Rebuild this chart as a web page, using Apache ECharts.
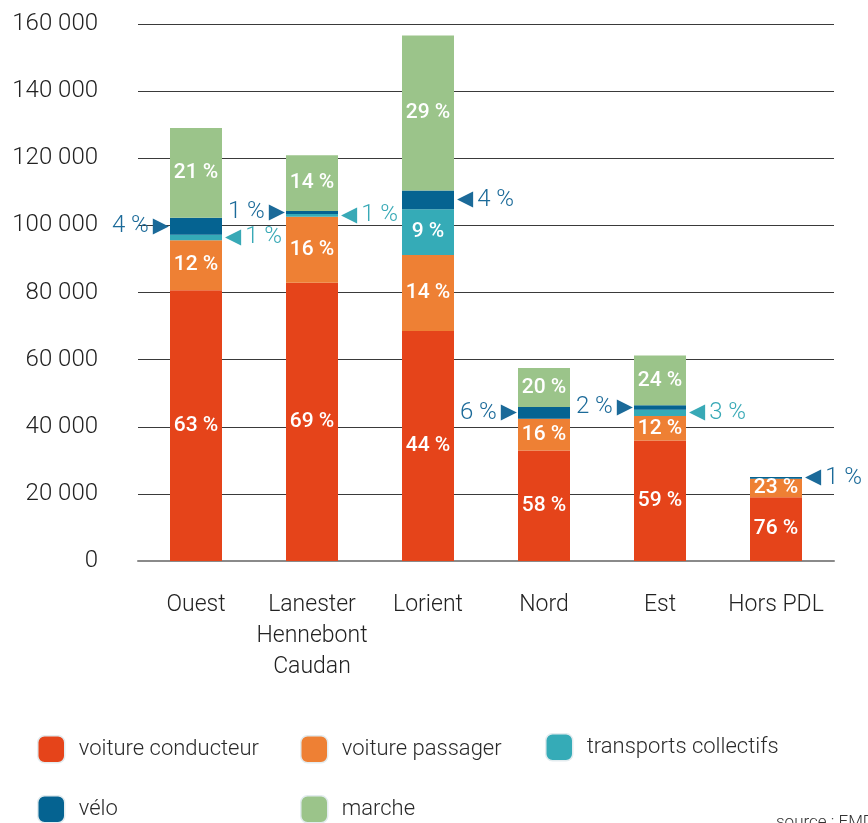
<!DOCTYPE html>
<html>
<head>
<meta charset="utf-8">
<script src="https://cdn.jsdelivr.net/npm/echarts@6/dist/echarts.min.js"></script>
<style>
  html, body { margin: 0; padding: 0; background: #fff; }
  #main { width: 868px; height: 823px; }
</style>
</head>
<body>
<div id="main"></div>
<script>
// données : déplacements par secteur et par mode
var categories = ['Ouest', 'Lanester\nHennebont\nCaudan', 'Lorient', 'Nord', 'Est', 'Hors PDL'];
var yTicks = [0, 20000, 40000, 60000, 80000, 100000, 120000, 140000, 160000];

var voitureConducteur = [80700, 82900, 68500, 32900, 35900, 19000];
var voiturePassager = [14900, 19700, 22700, 9500, 7300, 5500];
var transportsCollectifs = [1600, 800, 13600, 0, 1900, 0];
var velo = [5100, 900, 5600, 3500, 1300, 500];
var marche = [26700, 16600, 46200, 11600, 14800, 0];

// parts modales affichées (%)
var pctConducteur = [63, 69, 44, 58, 59, 76];
var pctPassager = [12, 16, 14, 16, 12, 23];
var pctTransports = [1, 1, 9, null, 3, null];
var pctVelo = [4, 1, 4, 6, 2, 1];
var pctMarche = [21, 14, 29, 20, 24, null];

// où poser les étiquettes des petits segments
var transportsSide = ['right', 'right', 'inside', null, 'right', null];
var veloSide = ['left', 'left', 'right', 'left', 'left', 'right'];

var colors = {
    conducteur: '#e5441a',
    passager: '#ee8034',
    transports: '#35abb7',
    velo: '#056391',
    marche: '#9bc48a'
};

function formatThousands(v) {
    return String(v).replace(/\B(?=(\d{3})+(?!\d))/g, ' ');
}

function innerLabel(p) {
    return {
        show: true,
        position: 'inside',
        formatter: p + ' %',
        color: '#fff',
        fontFamily: 'Roboto',
        fontWeight: 500,
        fontSize: 21
    };
}

function outerLabel(p, side, color) {
    var rich = {
        p: { fontFamily: 'Roboto', fontSize: 24, fontWeight: 300, color: color },
        t: { fontFamily: 'DejaVu Sans', fontSize: 21, color: color,
             padding: side === 'left' ? [0, 0, 0, 4] : [0, 4, 0, 0] }
    };
    return {
        show: true,
        position: side,
        distance: side === 'left' ? 1 : 3,
        formatter: side === 'left' ? '{p|' + p + ' %}{t|▶}' : '{t|◀}{p|' + p + ' %}',
        rich: rich
    };
}

function buildData(values, pcts, sides, outColor) {
    return values.map(function (v, i) {
        var item = { value: v };
        var p = pcts[i];
        if (p === null || p === undefined) {
            item.label = { show: false };
        } else {
            var side = sides ? sides[i] : 'inside';
            item.label = side === 'inside' ? innerLabel(p) : outerLabel(p, side, outColor);
        }
        return item;
    });
}

function makeLegend(name, left, top) {
    return {
        data: [name],
        left: left,
        top: top,
        padding: 0,
        icon: 'roundRect',
        itemWidth: 27,
        itemHeight: 27,
        selectedMode: false,
        itemStyle: {
            borderColor: '#e3ecef',
            borderWidth: 1.5
        },
        textStyle: {
            fontFamily: 'Roboto',
            fontWeight: 300,
            fontSize: 22,
            color: '#2a2a2a',
            padding: [0, 0, 0, 9]
        }
    };
}

var myChart = echarts.init(document.getElementById('main'));

var option = {
    animation: false,
    color: [colors.conducteur, colors.passager, colors.transports, colors.velo, colors.marche],
    grid: {
        left: 138,
        right: 34,
        top: 24,
        bottom: 262,
        containLabel: false
    },
    legend: [
        makeLegend('voiture conducteur', 37, 735),
        makeLegend('voiture passager', 300, 735),
        makeLegend('transports collectifs', 545, 733),
        makeLegend('vélo', 37, 795),
        makeLegend('marche', 300, 795)
    ],
    xAxis: {
        type: 'category',
        data: categories,
        axisTick: { show: false },
        axisLine: { lineStyle: { color: '#8a8a8a', width: 2 } },
        axisLabel: {
            margin: 29,
            fontFamily: 'Roboto',
            fontWeight: 300,
            fontSize: 23,
            lineHeight: 31,
            color: '#222',
            interval: 0
        }
    },
    yAxis: {
        type: 'value',
        min: yTicks[0],
        max: yTicks[yTicks.length - 1],
        interval: yTicks[1] - yTicks[0],
        axisLine: { show: false },
        axisTick: { show: false },
        splitLine: { lineStyle: { color: '#3a3a3a', width: 1 } },
        axisLabel: {
            margin: 40,
            fontFamily: 'Roboto',
            fontWeight: 300,
            fontSize: 24,
            color: '#222',
            formatter: formatThousands
        }
    },
    graphic: [{
        type: 'text',
        left: 776,
        top: 814,
        style: {
            text: 'source : EMD',
            fontFamily: 'Roboto',
            fontWeight: 300,
            fontSize: 17,
            fill: '#333'
        }
    }],
    series: [
        {
            name: 'voiture conducteur',
            type: 'bar',
            stack: 'total',
            barWidth: 52,
            data: buildData(voitureConducteur, pctConducteur, null, null)
        },
        {
            name: 'voiture passager',
            type: 'bar',
            stack: 'total',
            barWidth: 52,
            data: buildData(voiturePassager, pctPassager, null, null)
        },
        {
            name: 'transports collectifs',
            type: 'bar',
            stack: 'total',
            barWidth: 52,
            data: buildData(transportsCollectifs, pctTransports, transportsSide, '#38a9b6')
        },
        {
            name: 'vélo',
            type: 'bar',
            stack: 'total',
            barWidth: 52,
            data: buildData(velo, pctVelo, veloSide, '#1b6a99')
        },
        {
            name: 'marche',
            type: 'bar',
            stack: 'total',
            barWidth: 52,
            data: buildData(marche, pctMarche, null, null)
        }
    ]
};

myChart.setOption(option);
</script>
</body>
</html>
